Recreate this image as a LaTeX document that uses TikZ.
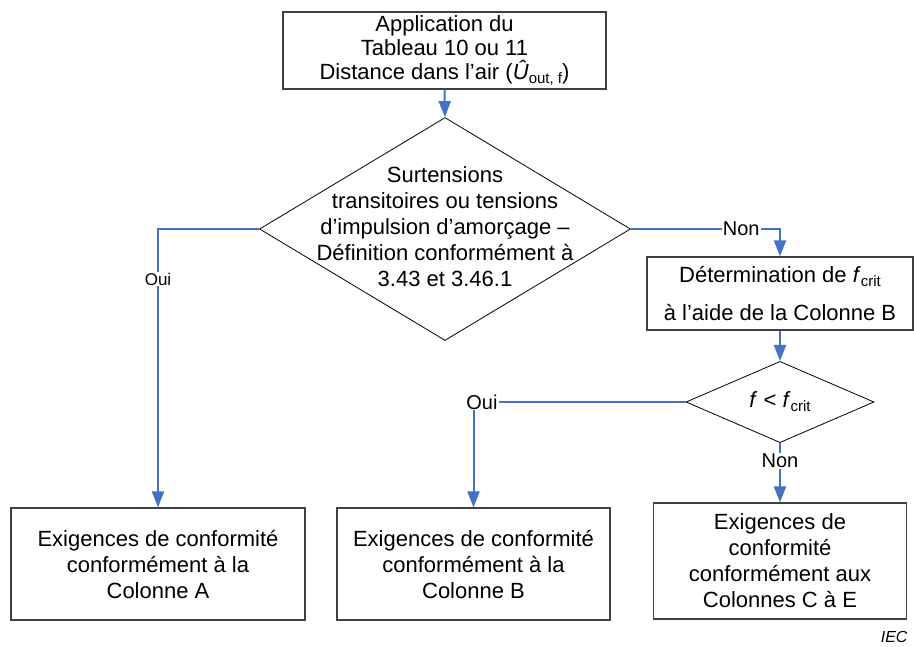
\documentclass[tikz,border=0pt]{standalone}
\usepackage{fontspec}
\setmainfont{Liberation Sans}
\usetikzlibrary{shapes.geometric,arrows.meta}
\definecolor{paper}{HTML}{FFFFFF}
\definecolor{ink}{HTML}{000000}
\definecolor{boxEdge}{HTML}{404040}
\definecolor{flowBlue}{HTML}{4472C4}
\newcommand{\subtxt}[1]{\raisebox{-0.35ex}{\fontsize{15}{15}\selectfont #1}}

\begin{document}
\begin{tikzpicture}[x=1pt, y=-1pt, font=\fontsize{22}{26}\selectfont, text=ink,
    box/.style={draw=boxEdge, line width=1.2pt, align=center, inner sep=2pt},
    dia/.style={diamond, draw=ink, line width=0.8pt, inner sep=0pt},
    lbl/.style={fill=paper, inner sep=1pt, font=\fontsize{20}{24}\selectfont},
    flow/.style={-{Triangle[length=16pt,width=12pt]}, line width=2pt, draw=flowBlue}]

  % canvas (same proportions as the page)
  \fill[paper] (0,0) rectangle (914,646);
  \useasboundingbox (0,0) rectangle (914,646);

  % ---------------- start box
  \node[box, minimum width=323pt, minimum height=77pt, font=\fontsize{22}{24}\selectfont] (app) at (444.5,50.5)
       {Application du\\Tableau 10 ou 11\\Distance dans l’air (\textit{Û}\subtxt{out, f})};

  % ---------------- first decision
  \node[dia, minimum width=371pt, minimum height=223pt] (surt) at (445,229) {};
  \node[align=center] (surtTxt) at (445,226.5)
       {Surtensions\\transitoires ou tensions\\d’impulsion d’amorçage –\\Définition conformément à\\3.43 et 3.46.1};

  % ---------------- f_crit branch
  \node[box, minimum width=266pt, minimum height=73pt] (det) at (780,293.5)
       {Détermination de \textit{f}\subtxt{crit}\\[12pt]à l’aide de la Colonne B};
  \node[dia, minimum width=188pt, minimum height=74pt] (crit) at (780,402)
       {\textit{f} < \textit{f}\subtxt{crit}};

  % ---------------- results
  \node[box, minimum width=294pt, minimum height=112pt] (exA) at (158,564)
       {Exigences de conformité\\conformément à la\\Colonne A};
  \node[box, minimum width=273pt, minimum height=112pt] (exB) at (473.5,564)
       {Exigences de conformité\\conformément à la\\Colonne B};
  \node[box, minimum width=253pt, minimum height=116pt] (exCE) at (780,561)
       {Exigences de\\conformité\\conformément aux\\Colonnes C à E};

  % ---------------- flow arrows
  \draw[flow] (app.south) -- (surt.north);
  \draw[flow] (surt.west) -| node[lbl, pos=0.59, font=\fontsize{17}{20}\selectfont] (ouiA) {Oui} (exA.north);
  \draw[flow] (surt.east) -| node[lbl, pos=0.37] (nonDet) {Non} (det.north);
  \draw[flow] (det.south) -- (crit.north);
  \draw[flow] (crit.west) -| node[lbl, pos=0.48] (ouiB) {Oui} (exB.north);
  \draw[flow] (crit.south) -- node[lbl, pos=0.3] (nonCE) {Non} (exCE.north);

  \node[anchor=east, font=\fontsize{16}{18}\selectfont\itshape] (iec) at (911,637) {IEC};
\end{tikzpicture}
\end{document}
